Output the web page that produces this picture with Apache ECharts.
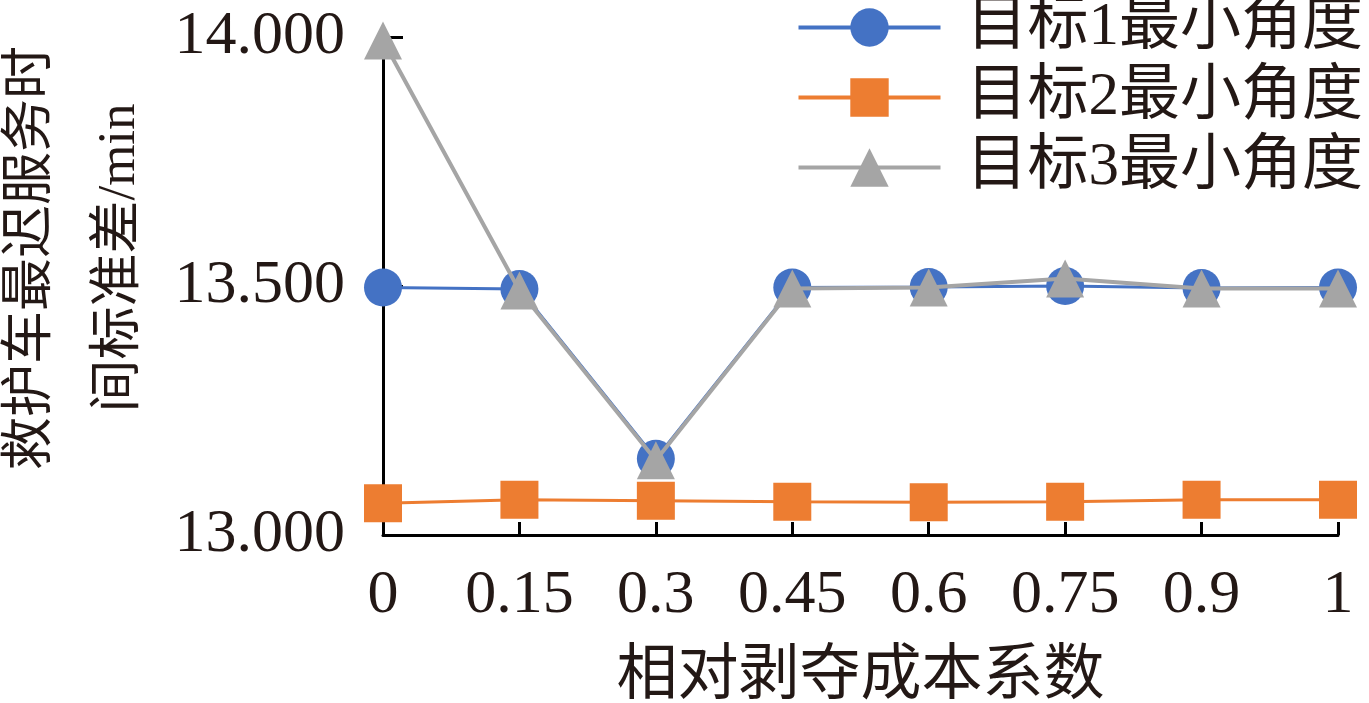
<!DOCTYPE html>
<html>
<head>
<meta charset="utf-8">
<script src="https://cdn.jsdelivr.net/npm/echarts@6/dist/echarts.min.js"></script>
<style>
html,body{margin:0;padding:0;background:#fff;}
#chart{width:1369px;height:703px;}
</style>
</head>
<body>
<div id="chart"></div>
<script>
const categories = ['0', '0.15', '0.3', '0.45', '0.6', '0.75', '0.9', '1'];
const seriesNames = ['目标1最小角度', '目标2最小角度', '目标3最小角度'];
const target1 = [13.497, 13.494, 13.153, 13.497, 13.498, 13.500, 13.496, 13.497];
const target2 = [13.064, 13.071, 13.069, 13.067, 13.066, 13.067, 13.071, 13.071];
const target3 = [13.993, 13.491, 13.150, 13.495, 13.497, 13.515, 13.495, 13.495];
const yTicks = { min: 13, max: 14, interval: 0.5 };

const FONT = '"Liberation Serif", "Noto Sans CJK SC", serif';
const chart = echarts.init(document.getElementById('chart'));
const colors = ['#4472C4', '#ED7D31', '#A5A5A5'];
const symbols = ['circle', 'rect', 'triangle'];
const widths = [3, 3, 4];
const datas = [target1, target2, target3];

chart.setOption({
  animation: false,
  backgroundColor: '#fff',
  grid: { left: 383, right: 31, top: 37, bottom: 168, containLabel: false, outerBoundsMode: 'none' },
  legend: {
    right: 1, top: -8, orient: 'vertical', itemWidth: 142, itemHeight: 48, itemGap: 9,
    lineStyle: { width: 4 },
    textStyle: { fontFamily: FONT, fontSize: 61, color: '#231815', lineHeight: 54, padding: [0, 0, 0, 21] },
    data: seriesNames
  },
  xAxis: {
    type: 'category', data: categories, boundaryGap: false,
    name: '相对剥夺成本系数', nameLocation: 'middle', nameGap: 112,
    nameTextStyle: { fontFamily: FONT, fontSize: 61, color: '#231815' },
    axisLine: { lineStyle: { color: '#000', width: 3 } },
    axisTick: { inside: true, length: 13, interval: 0, lineStyle: { color: '#000', width: 3 } },
    axisLabel: { fontFamily: FONT, fontSize: 62, color: '#231815', margin: 30, interval: 0 },
    splitLine: { show: false }
  },
  yAxis: {
    type: 'value', min: yTicks.min, max: yTicks.max, interval: yTicks.interval,
    name: '救护车最迟服务时\n间标准差/min', nameLocation: 'middle', nameGap: 214, nameRotate: 90,
    nameTextStyle: { fontFamily: FONT, fontSize: 53, color: '#231815', lineHeight: 88, padding: [0, 0, 0, 56] },
    axisLine: { show: true, lineStyle: { color: '#000', width: 3 } },
    axisTick: { show: true, inside: true, length: 20, lineStyle: { color: '#000', width: 3 } },
    axisLabel: { fontFamily: FONT, fontSize: 62, color: '#231815', margin: 38,
      formatter: v => v.toFixed(3) },
    splitLine: { show: false }
  },
  series: seriesNames.map((n, i) => ({
    name: n, type: 'line', data: datas[i],
    symbol: symbols[i], symbolSize: 38,
    itemStyle: { color: colors[i] },
    lineStyle: { color: colors[i], width: widths[i] },
    z: 2 + i
  }))
});
</script>
</body>
</html>
